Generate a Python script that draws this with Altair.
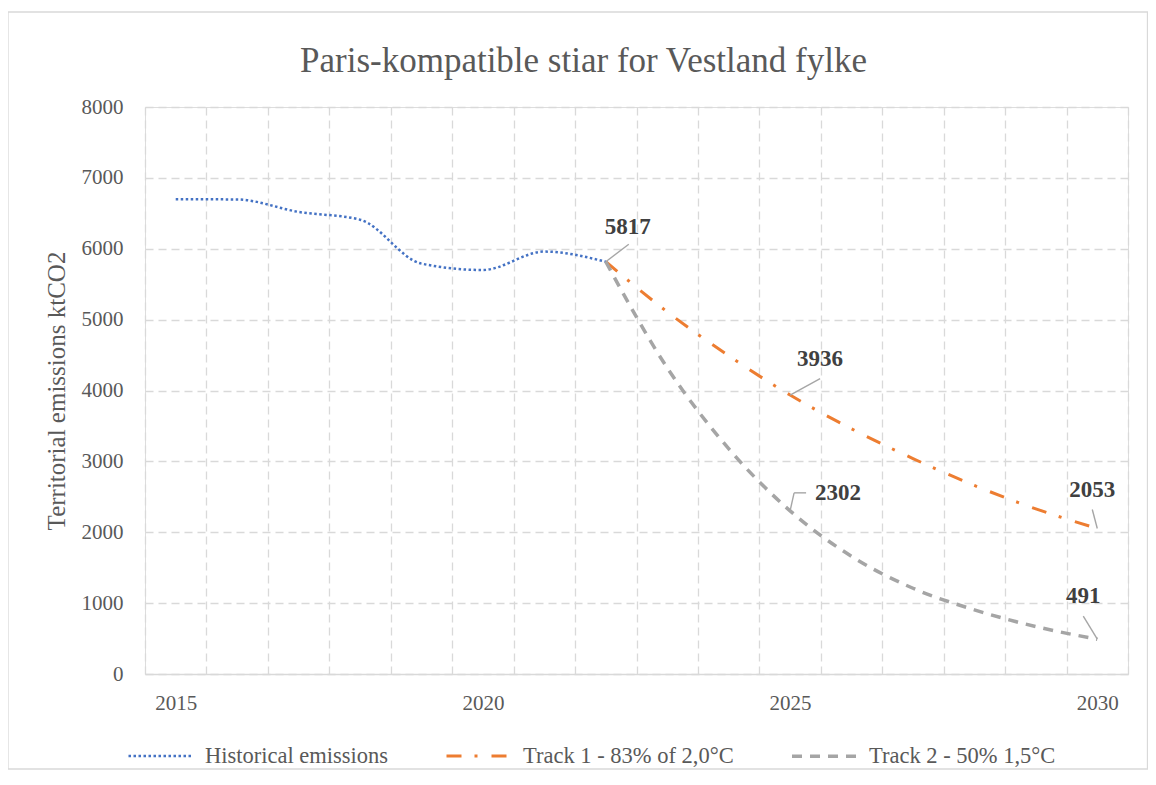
import altair as alt
import pandas as pd

FONT = "Liberation Serif"

# ---- data ----
hist_years = [2015, 2016, 2017, 2018, 2019, 2020, 2021, 2022]
hist_values = [6700, 6695, 6520, 6410, 5790, 5700, 5960, 5817]

track_years = [2022, 2023, 2024, 2025, 2026, 2027, 2028, 2029, 2030]
track1_values = [5817, 5110, 4490, 3936, 3460, 3040, 2660, 2330, 2053]
track2_values = [5817, 4320, 3180, 2302, 1660, 1210, 905, 669, 491]

series_names = ["Historical emissions", "Track 1 - 83% of 2,0°C", "Track 2 - 50% 1,5°C"]
series_colors = ["#4472C4", "#ED7D31", "#A5A5A5"]
series_dash = [[2.5, 2.5], [15, 13, 3, 14], [10, 8]]
series_width = [2.5, 3.5, 2.4]

y_ticks = [0, 1000, 2000, 3000, 4000, 5000, 6000, 7000, 8000]
x_label_years = [2015, 2020, 2025, 2030]
x_grid_bounds = [y + 0.5 for y in range(2014, 2031)]

title_text = "Paris-kompatible stiar for Vestland fylke"
y_title = "Territorial emissions ktCO2"

rows = []
for yr, v in zip(hist_years, hist_values):
    rows.append({"year": yr, "value": v, "series": series_names[0]})
for yr, v in zip(track_years, track1_values):
    rows.append({"year": yr, "value": v, "series": series_names[1]})
for yr, v in zip(track_years, track2_values):
    rows.append({"year": yr, "value": v, "series": series_names[2]})
df = pd.DataFrame(rows)

def lookup(series, year):
    r = df[(df.series == series) & (df.year == year)].iloc[0]
    return pd.DataFrame([{"year": int(r.year), "value": int(r.value)}])

x_enc = alt.X(
    "year:Q",
    scale=alt.Scale(domain=[2014.5, 2030.5], nice=False, zero=False),
    axis=alt.Axis(
        values=sorted(x_grid_bounds + x_label_years),
        labelExpr="datum.value % 5 == 0 ? datum.value : ''",
        grid=True,
        gridDash=[8, 5],
        gridColor="#d9d9d9",
        gridWidth=1.3,
        gridOpacity=alt.condition("datum.value % 1 != 0", alt.value(1), alt.value(0)),
        ticks=False,
        domain=True,
        domainColor="#d9d9d9",
        domainWidth=1.5,
        labelFont=FONT,
        labelFontSize=21,
        labelColor="#595959",
        labelPadding=18,
        labelFlush=False,
        labelOverlap=False,
        title=None,
    ),
)
y_enc = alt.Y(
    "value:Q",
    scale=alt.Scale(domain=[0, 8000], nice=False),
    axis=alt.Axis(
        values=y_ticks,
        format="d",
        grid=True,
        gridDash=[8, 5],
        gridColor="#d9d9d9",
        gridWidth=1.3,
        ticks=False,
        domain=False,
        labelFont=FONT,
        labelFontSize=21,
        labelColor="#595959",
        labelPadding=22,
        title=y_title,
        titleFont=FONT,
        titleFontSize=25,
        titleFontWeight="normal",
        titleColor="#595959",
        titlePadding=12,
    ),
)

lines = alt.Chart(df).mark_line(interpolate="monotone", strokeCap="butt").encode(
    x=x_enc,
    y=y_enc,
    color=alt.Color(
        "series:N",
        scale=alt.Scale(domain=series_names, range=series_colors),
        legend=alt.Legend(
            title=None,
            orient="none",
            direction="horizontal",
            legendX=-18,
            legendY=615,
            symbolType="stroke",
            symbolSize=4096,
            symbolStrokeWidth=3,
            labelFont=FONT,
            labelFontSize=22.5,
            labelColor="#595959",
            labelOffset=11,
            columnPadding=51,
            labelLimit=400,
            padding=0,
        ),
    ),
    strokeDash=alt.StrokeDash(
        "series:N", scale=alt.Scale(domain=series_names, range=series_dash), legend=None
    ),
    strokeWidth=alt.StrokeWidth(
        "series:N", scale=alt.Scale(domain=series_names, range=series_width), legend=None
    ),
    order=alt.Order("year:Q"),
)

# annotations: (series, year, text dx, text dy, align, leader segments)
annotations = [
    (series_names[0], 2022, 22, -35, "center", [(0, 0, 23, -17.5)]),
    (series_names[1], 2025, 30, -36, "center", [(0, 0, 30, -16.5)]),
    (series_names[2], 2025, 25, -18, "left", [(0, 0, 4, -18), (4, -18, 16, -18)]),
    (series_names[1], 2030, -5, -38, "center", [(0, 0, -5, -19)]),
    (series_names[2], 2030, -14, -43, "center", [(0, 0, -14, -23)]),
]

layers = [lines]
for s, yr, tdx, tdy, al, segs in annotations:
    d = lookup(s, yr)
    for (a, b, c, e) in segs:
        layers.append(
            alt.Chart(d).mark_rule(
                color="#a6a6a6", strokeWidth=1.4,
                xOffset=a, yOffset=b, x2Offset=c, y2Offset=e,
            ).encode(x="year:Q", y="value:Q", x2="year:Q", y2="value:Q")
        )
    layers.append(
        alt.Chart(d).mark_text(
            font=FONT, fontSize=23, fontWeight="bold", color="#404040",
            dx=tdx, dy=tdy, align=al, baseline="middle",
        ).encode(x="year:Q", y="value:Q", text=alt.Text("value:Q", format="d"))
    )

# outer chart-area border
border = alt.Chart(pd.DataFrame([{"k": 0}])).mark_rect(
    filled=False, stroke="#d9d9d9", strokeWidth=1.3
).encode(
    x=alt.value(-137), x2=alt.value(1002.5), y=alt.value(-95), y2=alt.value(662)
)
layers.append(border)

chart = alt.layer(*layers).properties(
    width=983,
    height=567,
    autosize=alt.AutoSizeParams(type="none"),
    padding={"left": 137, "top": 99, "right": 20, "bottom": 98},
    title=alt.TitleParams(
        title_text,
        font=FONT,
        fontSize=35,
        fontWeight="normal",
        color="#595959",
        anchor="middle",
        frame="group",
        baseline="alphabetic",
        dx=-53,
        offset=-96,
    ),
).configure_view(stroke=None).configure(background="white")

chart.save("out.html", embed_options={"renderer": "svg", "actions": False})
